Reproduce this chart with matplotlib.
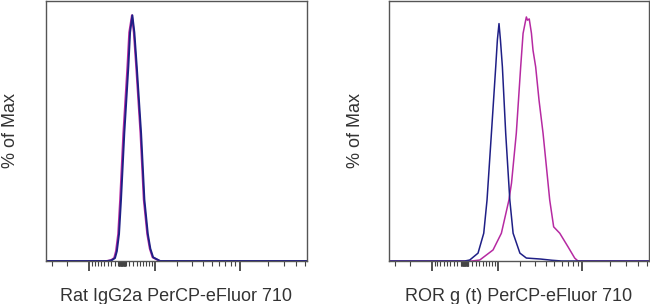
import numpy as np
import matplotlib
matplotlib.use("Agg")
import matplotlib.pyplot as plt
from matplotlib.ticker import FixedLocator, NullFormatter

plt.rcParams['font.family'] = ['Liberation Sans', 'DejaVu Sans']

# --- data (fluorescence, % of max) ---
# left panel: isotype control, two overlapping histograms
iso_blue_x = [-3500, -400, -283, -191, -140, -81, -27, 62, 172, 219, 282, 339, 408, 535, 636, 746, 830, 926, 1190, 53000]
iso_blue_y = [0, 0, 0.3, 1.2, 4, 11, 25, 52, 79, 93, 100, 93, 79, 52, 25, 11, 5, 1.5, 0, 0]
iso_mag_x = [-3500, -430, -310, -215, -165, -105, -52, 35, 145, 195, 270, 322, 390, 515, 615, 725, 810, 905, 1170, 53000]
iso_mag_y = [0, 0, 0.3, 1.2, 4, 11, 25, 52, 79, 93, 100, 93, 79, 52, 25, 11, 5, 1.5, 0, 0]

# right panel: ROR g (t) stained vs control
ror_blue_x = [-3500, 0, 136, 367, 535, 636, 778, 926, 986, 1046, 1100, 1177, 1313, 1495, 1651, 2011, 2405, 3500, 4700, 6000, 53000]
ror_blue_y = [0, 0, 0.4, 3.2, 11.3, 24.8, 52, 79, 90, 96.6, 90, 79, 52, 24.8, 11.3, 3.2, 1.2, 0.8, 0.3, 0, 0]
ror_mag_x = [-3500, 200, 417, 833, 1137, 1454, 1574, 1814, 2055, 2197, 2330, 2405, 2480, 2600, 2757, 2875,
             3085, 3370, 3740, 4080, 4440, 4910, 5730, 7050, 8340, 9050, 53000]
ror_mag_y = [0, 0, 0.4, 4.5, 11.3, 24.8, 31.7, 52, 79, 92.6, 97, 99.3, 98, 98.5, 92.7, 85.8,
             79, 65.4, 52, 38.3, 24.8, 13.9, 11.3, 5.8, 1.2, 0, 0]

xlabels = ['Rat IgG2a PerCP-eFluor 710', 'ROR g (t) PerCP-eFluor 710']
ylabel = '% of Max'

BLUE = '#1f1f86'
MAGENTA = '#b62aa2'
FRAME = '#555555'

XLIM = (-3500, 53000)
YLIM = (0, 106)

# ticks like a FlowJo logicle axis
major = [-1000, 1000, 10000]
minor = []
for k in range(1, 5):
    for m in range(1, 10):
        v = m * 10 ** k
        if v in major:
            continue
        for s in (-1, 1):
            if XLIM[0] <= s * v <= XLIM[1]:
                minor.append(s * v)
minor.append(0)

fig = plt.figure(figsize=(6.5, 3.04), dpi=100)
ax1 = fig.add_axes([46 / 650, 43 / 304, 261 / 650, 260.5 / 304])
ax2 = fig.add_axes([389 / 650, 43 / 304, 260 / 650, 260.5 / 304])

ax1.plot(iso_mag_x, iso_mag_y, color=MAGENTA, lw=1.4)
ax1.plot(iso_blue_x, iso_blue_y, color=BLUE, lw=1.4)
ax2.plot(ror_mag_x, ror_mag_y, color=MAGENTA, lw=1.1)
ax2.plot(ror_blue_x, ror_blue_y, color=BLUE, lw=1.1)

for ax, lab, ylx in zip([ax1, ax2], xlabels, [-0.103, -0.098]):
    ax.set_xscale('asinh', linear_width=1093)
    ax.set_xlim(*XLIM)
    ax.set_ylim(*YLIM)
    ax.xaxis.set_major_locator(FixedLocator(major))
    ax.xaxis.set_minor_locator(FixedLocator(minor))
    ax.xaxis.set_major_formatter(NullFormatter())
    ax.xaxis.set_minor_formatter(NullFormatter())
    ax.tick_params(axis='x', which='major', direction='out', length=7, width=1.2, color='#333333')
    ax.tick_params(axis='x', which='minor', direction='out', length=3.5, width=0.8, color='#444444')
    ax.set_yticks([])
    for sp in ax.spines.values():
        sp.set_color(FRAME)
        sp.set_linewidth(1.0)
    ax.set_xlabel(lab, fontsize=13, color='#333333')
    ax.xaxis.set_label_coords(0.5, -0.102)
    ax.set_ylabel(ylabel, fontsize=13, color='#333333')
    ax.yaxis.set_label_coords(ylx, 0.5)

fig.savefig('out.png', dpi=100)
